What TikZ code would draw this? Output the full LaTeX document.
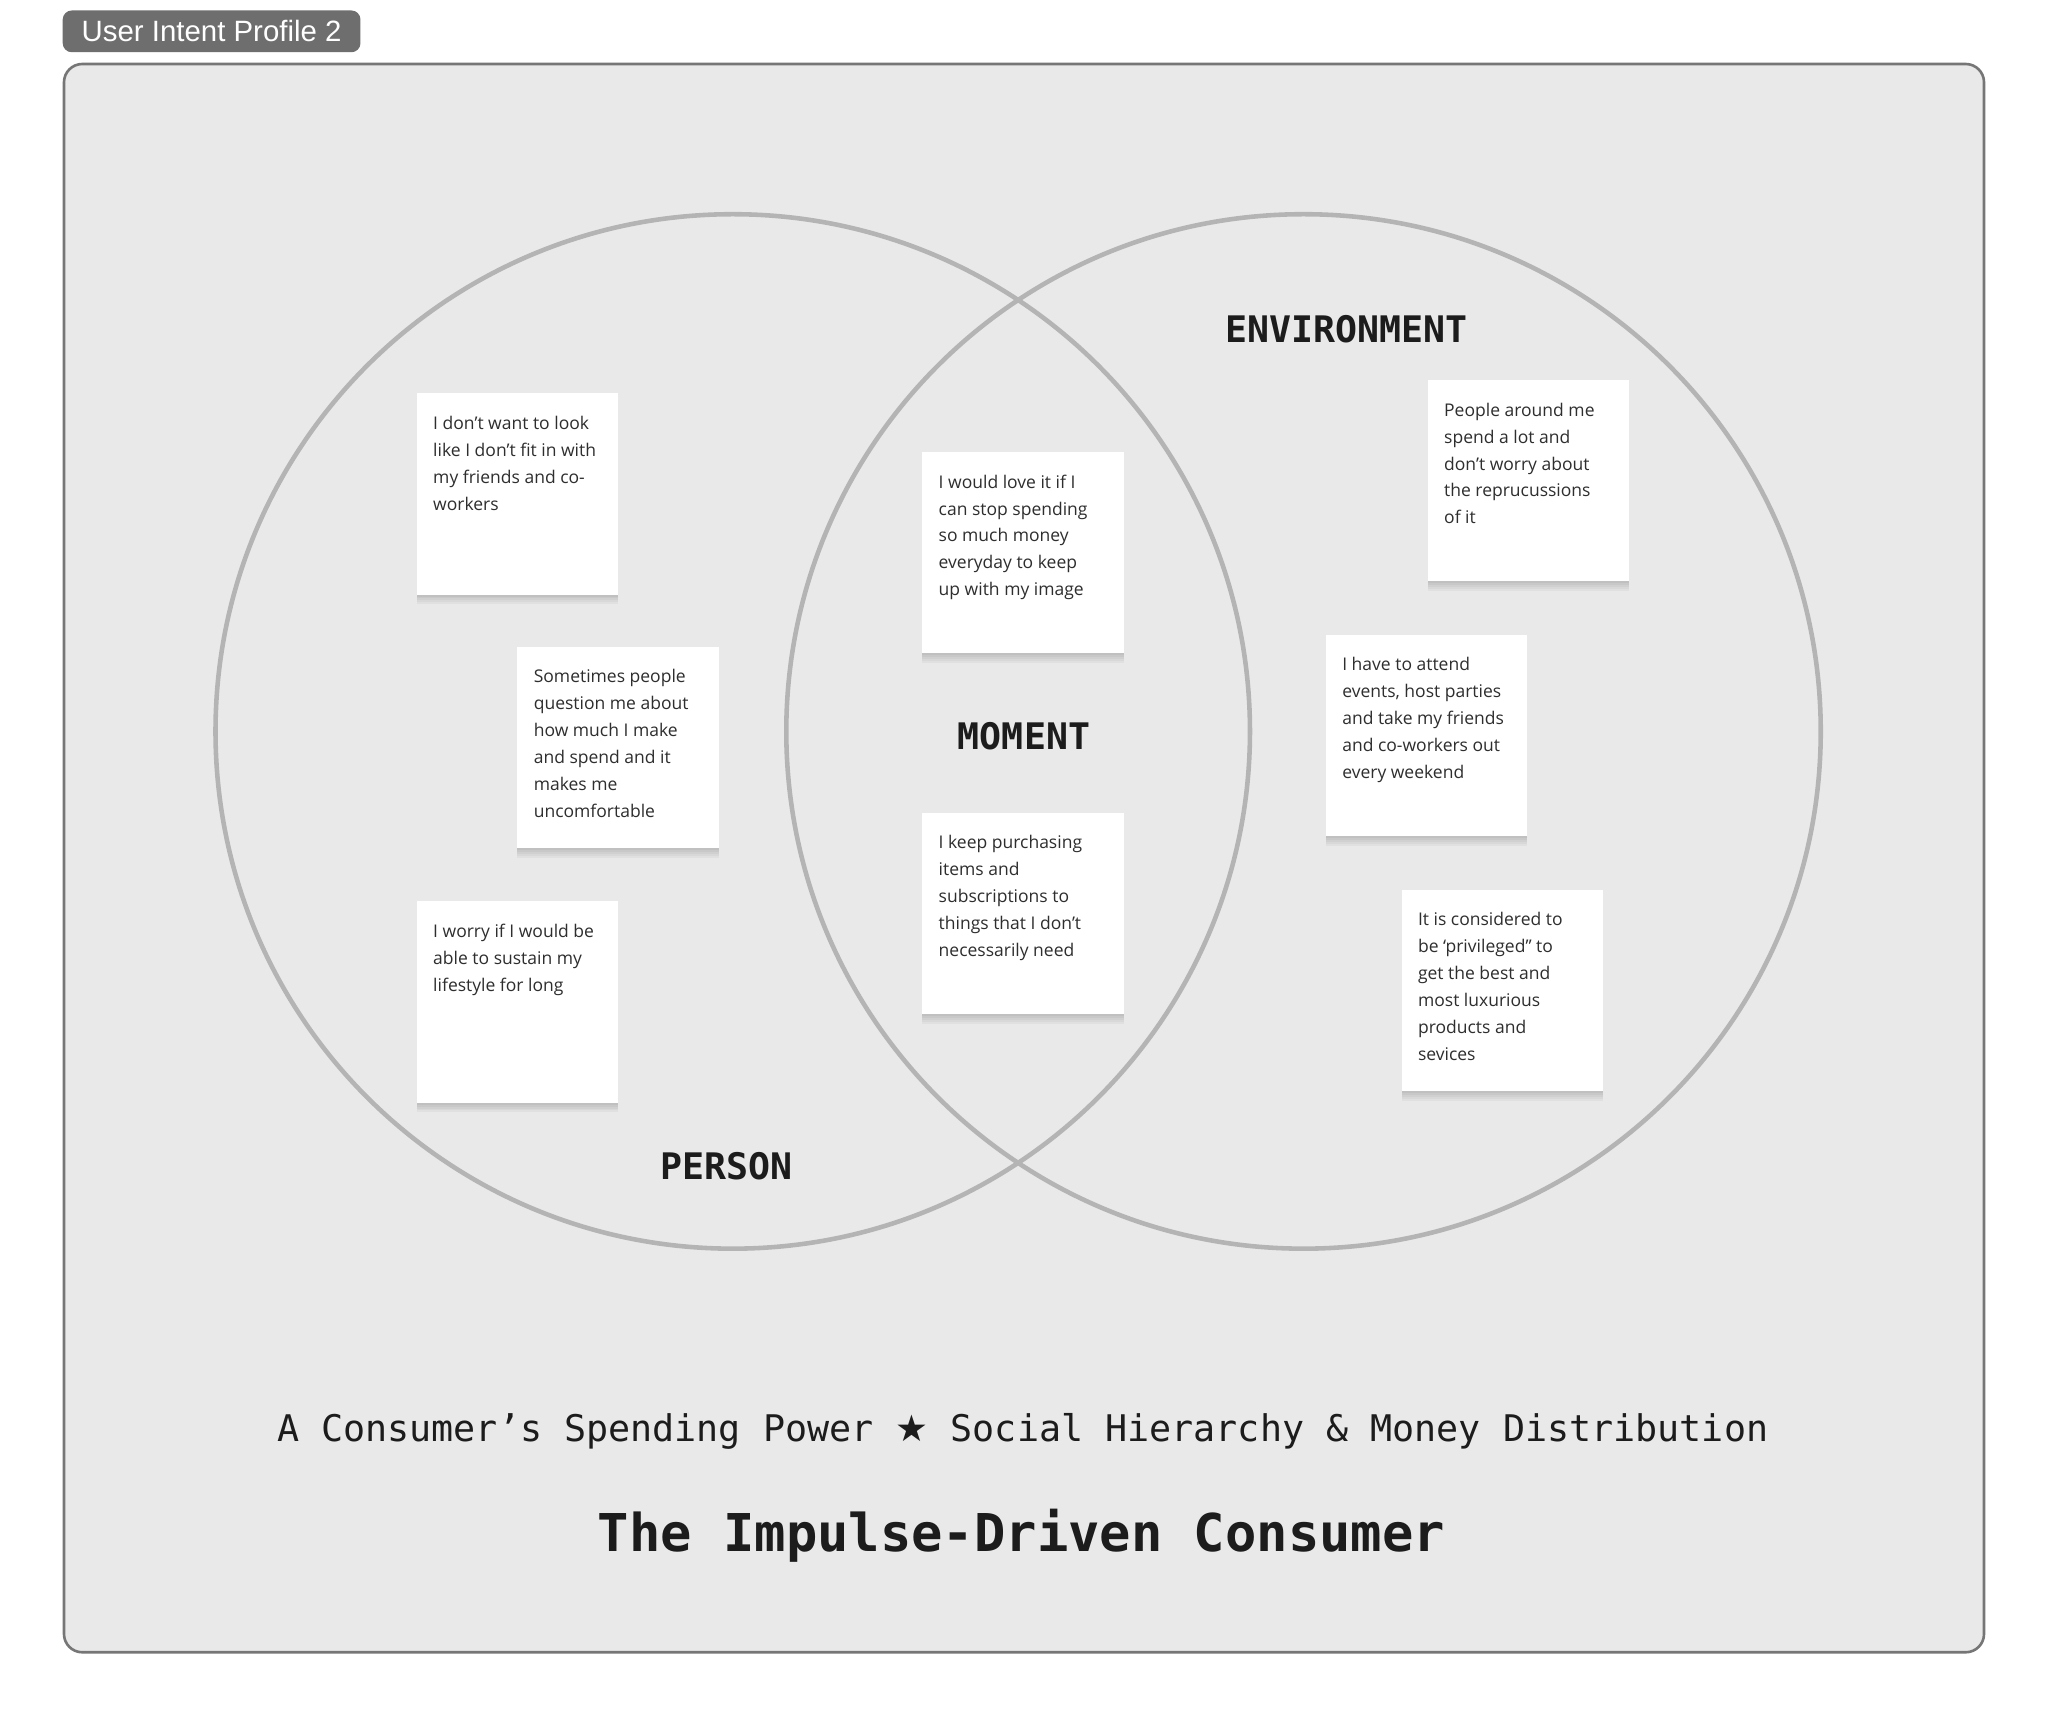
\documentclass[tikz,border=0pt]{standalone}
\usepackage{fontspec}
\setmainfont{Open Sans}
\newfontfamily\monofont{DejaVu Sans Mono}
\newfontfamily\tagfont{Liberation Sans}
\newfontfamily\starfont{DejaVu Sans}
\definecolor{panel}{HTML}{E9E9E9}
\definecolor{framegray}{HTML}{767676}
\definecolor{ringgray}{HTML}{B4B4B4}
\definecolor{taggray}{HTML}{6E6E6E}
\definecolor{ink}{HTML}{1C1C1C}
\definecolor{notetext}{HTML}{2E2E2E}
\newcommand{\notetxt}[1]{\parbox[t][128pt][t]{129pt}{\raggedright\rule{0pt}{14.5pt}#1}}

\begin{document}
\begin{tikzpicture}[x=1pt, y=-1pt,
    softshade/.style={preaction={fill=black, fill opacity=0.035, transform canvas={yshift=-#1}}},
    note/.style={fill=white, anchor=north west, inner xsep=12.5pt, inner ysep=13pt, text=notetext,
        font=\fontsize{13.4}{20.6}\selectfont,
        softshade=1.5pt, softshade=3pt, softshade=4.5pt, softshade=6pt, softshade=7.5pt},
    ring/.style={draw=ringgray, line width=3.5pt},
    zone/.style={text=ink, font=\monofont\bfseries\fontsize{28}{30}\selectfont}]
    \useasboundingbox (0,0) rectangle (1568,1314.6);
    \fill[white] (0,0) rectangle (1568,1314.6);
    % panel and tag
    \draw[fill=panel, draw=framegray, line width=2pt, rounded corners=14pt] (49,49) rectangle (1519,1265);
    \node[fill=taggray, text=white, rounded corners=7pt, minimum width=228pt, minimum height=32pt,
        font=\tagfont\fontsize{22.5}{24}\selectfont] (tag) at (162,24) {User Intent Profile 2};
    % the two sets
    \draw[ring] (561,560) circle[radius=396];
    \draw[ring] (998,560) circle[radius=396];
    \node[zone] (envlabel) at (1031,252) {ENVIRONMENT};
    \node[zone] (momentlabel) at (784,564) {MOMENT};
    \node[zone] (personlabel) at (556,893) {PERSON};
    % person notes
    \node[note] (p1) at (319,301) {\notetxt{I don’t want to look\\ like I don’t fit in with\\ my friends and co-\\ workers}};
    \node[note] (p2) at (396,495) {\notetxt{Sometimes people\\ question me about\\ how much I make\\ and spend and it\\ makes me\\ uncomfortable}};
    \node[note] (p3) at (319,690) {\notetxt{I worry if I would be\\ able to sustain my\\ lifestyle for long}};
    % moment notes
    \node[note] (m1) at (706,346) {\notetxt{I would love it if I\\ can stop spending\\ so much money\\ everyday to keep\\ up with my image}};
    \node[note] (m2) at (706,622) {\notetxt{I keep purchasing\\ items and\\ subscriptions to\\ things that I don’t\\ necessarily need}};
    % environment notes
    \node[note] (e1) at (1093,291) {\notetxt{People around me\\ spend a lot and\\ don’t worry about\\ the reprucussions\\ of it}};
    \node[note] (e2) at (1015,486) {\notetxt{I have to attend\\ events, host parties\\ and take my friends\\ and co-workers out\\ every weekend}};
    \node[note] (e3) at (1073,681) {\notetxt{It is considered to\\ be ‘privileged” to\\ get the best and\\ most luxurious\\ products and\\ sevices}};
    % captions
    \node[text=ink, font=\monofont\fontsize{28.1}{30}\selectfont] (subtitle) at (783,1096)
        {A Consumer’s Spending Power {\starfont ★} Social Hierarchy \& Money Distribution};
    \node[text=ink, font=\monofont\bfseries\fontsize{39.9}{42}\selectfont] (title) at (782,1176)
        {The Impulse-Driven Consumer};
\end{tikzpicture}
\end{document}
